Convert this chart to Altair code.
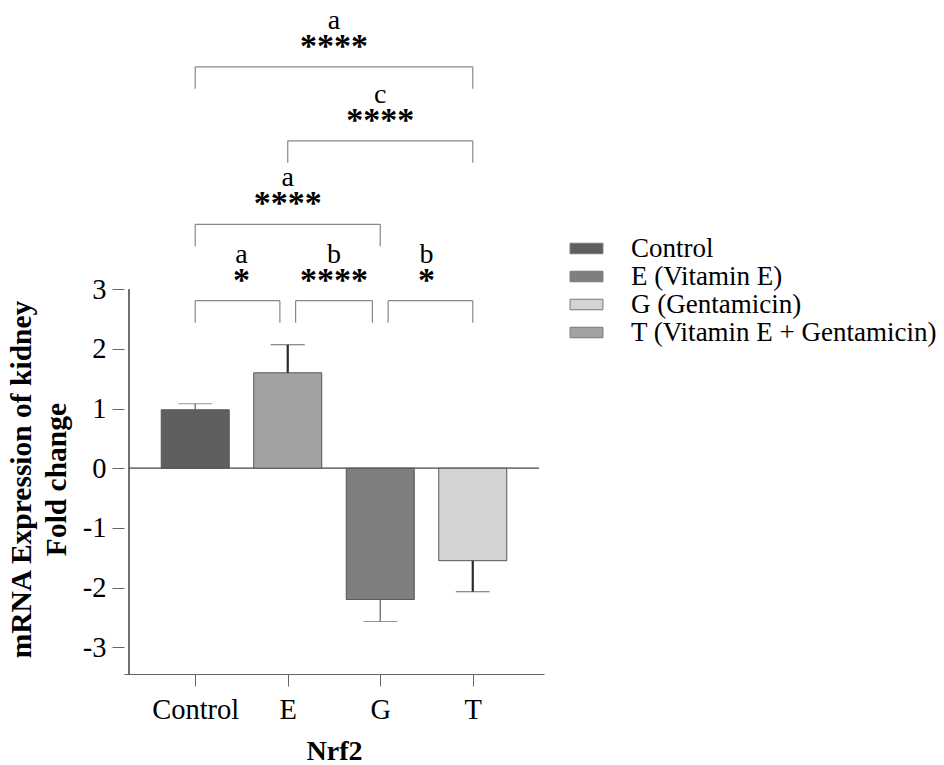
import altair as alt
import pandas as pd

# ---- data ----
groups = ["Control", "E", "G", "T"]
means = [0.98, 1.60, -2.20, -1.55]
sems = [0.10, 0.47, 0.37, 0.52]
bar_colors = ["#5f5f5f", "#a2a2a5", "#7f7f7f", "#d4d4d4"]

legend_labels = ["Control", "E (Vitamin E)", "G (Gentamicin)", "T (Vitamin E + Gentamicin)"]
legend_colors = ["#5f5f5f", "#7f7f7f", "#d4d4d4", "#a2a2a5"]

bracket_from = ["Control", "E", "G", "Control", "E", "Control"]
bracket_to = ["E", "G", "T", "G", "T", "T"]
bracket_height = [2.81, 2.81, 2.81, 4.09, 5.49, 6.73]
bracket_letter = ["a", "b", "b", "a", "c", "a"]
bracket_stars = ["*", "****", "*", "****", "****", "****"]

y_ticks = [-3, -2, -1, 0, 1, 2, 3]

# ---- layout / style constants ----
XMIN, XMAX = -0.716, 3.716
YMIN, YMAX = -3.45, 7.7
YAXIS_TOP = 3
W, H = 420, 665
INSET = 0.085  # gap where adjacent brackets meet (x units)
SERIF = "Liberation Serif"
HEAVY_ERR = ["E", "T"]  # error bars drawn darker/thicker in the original

idx = {g: i for i, g in enumerate(groups)}

bars = pd.DataFrame({"group": groups, "pos": list(range(len(groups))),
                     "mean": means, "sem": sems, "color": bar_colors})
bars["err_end"] = [m + (s if m >= 0 else -s) for m, s in zip(means, sems)]

rows = []
for a, b, h, l, s in zip(bracket_from, bracket_to, bracket_height, bracket_letter, bracket_stars):
    i, j = idx[a], idx[b]
    left_shared = any(bh == h and idx[bt] == i for bt, bh in zip(bracket_to, bracket_height))
    right_shared = any(bh == h and idx[bf] == j for bf, bh in zip(bracket_from, bracket_height))
    rows.append({"xl": i + (INSET if left_shared else 0), "xr": j - (INSET if right_shared else 0),
                 "xm": (i + j) / 2, "h": h, "letter": l, "stars": s})
br = pd.DataFrame(rows)

xscale = alt.Scale(domain=[XMIN, XMAX], nice=False, zero=False)
yscale = alt.Scale(domain=[YMIN, YMAX], nice=False, zero=False)

label_expr = "[" + ",".join(f"'{g}'" for g in groups) + "][datum.value]"

base = alt.Chart(bars)

bar_layer = base.mark_bar(width=68, stroke="#555555", strokeWidth=1).encode(
    x=alt.X("pos:Q", scale=xscale,
            axis=alt.Axis(values=list(range(len(groups))), labelExpr=label_expr,
                          title="Nrf2", grid=False, domainColor="#666666", tickColor="#666666",
                          tickSize=12, labelPadding=9, labelFont=SERIF, labelFontSize=28.5,
                          labelColor="black", titleFont=SERIF, titleFontSize=28,
                          titleFontWeight="bold", titleColor="black", titlePadding=14)),
    y=alt.Y("mean:Q", scale=yscale,
            axis=alt.Axis(values=y_ticks, labelExpr="datum.value + ''", domain=False,
                          grid=False, tickColor="#666666",
                          tickSize=12, labelPadding=6, labelFont=SERIF, labelFontSize=28.5,
                          labelColor="black",
                          title=["mRNA Expression of kidney", "Fold change"],
                          titleFont=SERIF, titleFontSize=29.5, titleFontWeight="bold",
                          titleColor="black", titleLineHeight=35, titleAngle=-90,
                          titleAlign="center", titleBaseline="bottom",
                          titleX=-88, titleY=470)),
    y2=alt.datum(0),
    color=alt.Color("color:N", scale=None),
)

heavy = alt.FieldOneOfPredicate(field="group", oneOf=HEAVY_ERR)
err_line = base.mark_rule().encode(
    x="pos:Q", y="mean:Q", y2="err_end:Q",
    color=alt.condition(heavy, alt.value("#2a2a2a"), alt.value("#6a6a6a")),
    strokeWidth=alt.condition(heavy, alt.value(2.2), alt.value(1.3)))
err_cap = base.mark_tick(orient="horizontal", size=34).encode(
    x="pos:Q", y="err_end:Q",
    color=alt.condition(heavy, alt.value("#2a2a2a"), alt.value("#6a6a6a")),
    strokeWidth=alt.condition(heavy, alt.value(2.2), alt.value(1.3)))

zero_line = alt.Chart(bars).mark_rule(color="#777777", strokeWidth=1).encode(
    x=alt.datum(XMIN), x2=alt.datum(XMAX), y=alt.datum(0))
y_axis_line = alt.Chart(bars).mark_rule(color="#666666", strokeWidth=1).encode(
    x=alt.datum(XMIN), y=alt.datum(YMIN), y2=alt.datum(YAXIS_TOP))

bbase = alt.Chart(br)
b_h = bbase.mark_rule(color="#888888", strokeWidth=1.2).encode(x="xl:Q", x2="xr:Q", y="h:Q")
b_l = bbase.mark_rule(color="#888888", strokeWidth=1.2, y2Offset=22).encode(x="xl:Q", y="h:Q", y2="h:Q")
b_r = bbase.mark_rule(color="#888888", strokeWidth=1.2, y2Offset=22).encode(x="xr:Q", y="h:Q", y2="h:Q")
b_stars = bbase.mark_text(font=SERIF, fontSize=34, fontWeight="bold", color="black",
                          baseline="middle", dy=-20).encode(x="xm:Q", y="h:Q", text="stars:N")
b_letter = bbase.mark_text(font=SERIF, fontSize=28, color="black",
                           baseline="middle", dy=-46).encode(x="xm:Q", y="h:Q", text="letter:N")

legend_df = pd.DataFrame({"label": legend_labels})
legend_layer = alt.Chart(legend_df).mark_rect().encode(
    color=alt.Color("label:N", scale=alt.Scale(domain=legend_labels, range=legend_colors),
                    legend=alt.Legend(title=None, orient="none", legendX=443, legendY=227,
                                      symbolType="M-0.865,-0.277H0.865V0.277H-0.865Z",
                                      symbolSize=1444,
                                      symbolStrokeColor="#777777", symbolStrokeWidth=1,
                                      clipHeight=25, rowPadding=0, labelOffset=25,
                                      labelFont=SERIF, labelFontSize=27, labelColor="black",
                                      labelLimit=500, padding=0))
).transform_filter("false")

chart = alt.layer(
    zero_line, bar_layer, err_line, err_cap, y_axis_line,
    b_h, b_l, b_r, b_stars, b_letter, legend_layer
).resolve_scale(color="independent").properties(
    width=W, height=H,
    autosize=alt.AutoSizeParams(type="none"),
    padding={"left": 124, "top": 9, "right": 944 - 124 - W, "bottom": 765 - 9 - H},
).configure(background="white").configure_view(stroke=None, strokeWidth=0)

chart.save("out.html", embed_options={"renderer": "svg", "actions": False})
